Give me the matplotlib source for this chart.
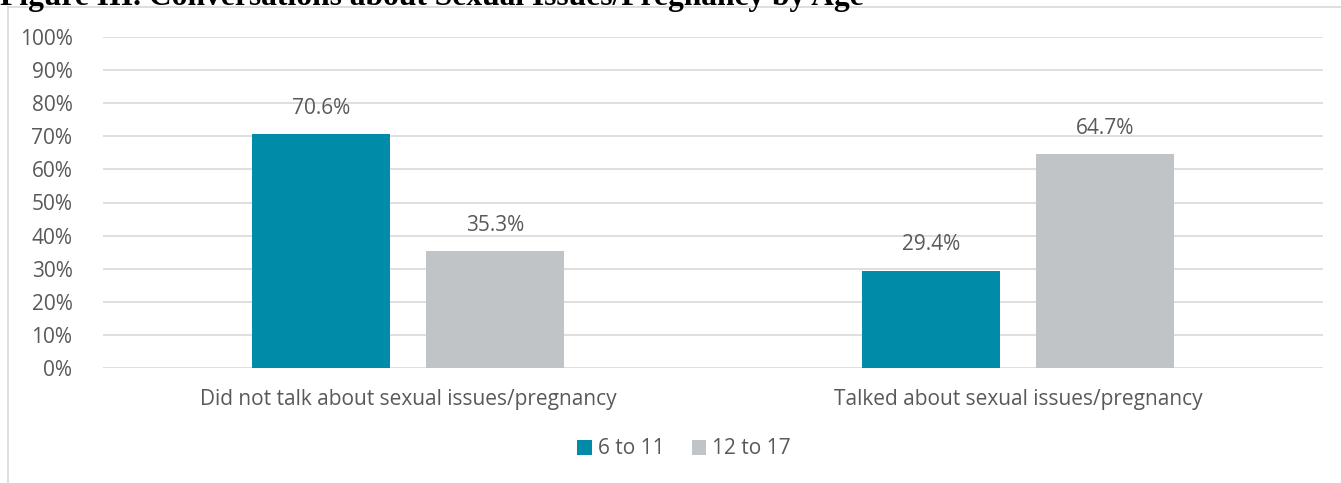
import matplotlib
matplotlib.use("Agg")
import matplotlib.pyplot as plt
from matplotlib.lines import Line2D

categories = ["Did not talk about sexual issues/pregnancy", "Talked about sexual issues/pregnancy"]
series_names = ["6 to 11", "12 to 17"]
values_6_11 = [70.6, 29.4]
values_12_17 = [35.3, 64.7]
yticks = list(range(0, 101, 10))

W, H = 1341, 483
fig = plt.figure(figsize=(W / 100, H / 100), dpi=100)
plt.rcParams['font.family'] = ['Open Sans', 'DejaVu Sans']
txt = '#595959'
teal = '#008CA8'
grey = '#C1C4C7'
fs = 15

ax = fig.add_axes([103 / W, 1 - 368 / H, 1220 / W, 331 / H])
x = [0, 1]
bw = 0.226
off = 0.143
b1 = ax.bar([i - off for i in x], values_6_11, bw, color=teal, label=series_names[0], zorder=3)
b2 = ax.bar([i + off for i in x], values_12_17, bw, color=grey, label=series_names[1], zorder=3)
for bars, vals in ((b1, values_6_11), (b2, values_12_17)):
    for r, v in zip(bars, vals):
        ax.text(r.get_x() + r.get_width() / 2, v + 4.6, f"{v:.1f}%", ha='center', va='bottom',
                fontsize=fs, color=txt)
ax.set_xlim(-0.5, 1.5)
ax.set_ylim(0, 100)
ax.set_yticks(yticks)
ax.set_yticklabels([f"{t}%" for t in yticks], fontsize=fs, color=txt)
ax.set_xticks(x)
ax.set_xticklabels(categories, fontsize=fs, color=txt)
ax.tick_params(axis='both', length=0)
ax.tick_params(axis='y', pad=22)
ax.tick_params(axis='x', pad=15)
ax.grid(axis='y', color='#D9D9D9', linewidth=1.2, zorder=0)
for s in ax.spines.values():
    s.set_visible(False)

leg = fig.legend(handles=[b1, b2], labels=series_names, loc='center', bbox_to_anchor=(684 / W, 1 - 449 / H),
                 ncol=2, frameon=False, fontsize=fs, handlelength=0.7, handleheight=0.7,
                 handletextpad=0.3, columnspacing=1.3)
for t in leg.get_texts():
    t.set_color(txt)

# chart border (partially visible)
fig.add_artist(Line2D([8 / W, 8 / W], [0, 1 - 7 / H], color='#D9D9D9', linewidth=1.2, transform=fig.transFigure))
fig.add_artist(Line2D([8 / W, 1], [1 - 7 / H, 1 - 7 / H], color='#D9D9D9', linewidth=1.2, transform=fig.transFigure))

# cropped title (cut off at the top edge, as in the source image)
fig.text(0.0, 1 - 5 / H, "Figure III. Conversations about Sexual Issues/Pregnancy by Age",
         family=['Liberation Serif', 'DejaVu Serif'], fontweight='bold', fontsize=22.7, color='black',
         ha='left', va='baseline')

fig.savefig("out.png", dpi=100)
